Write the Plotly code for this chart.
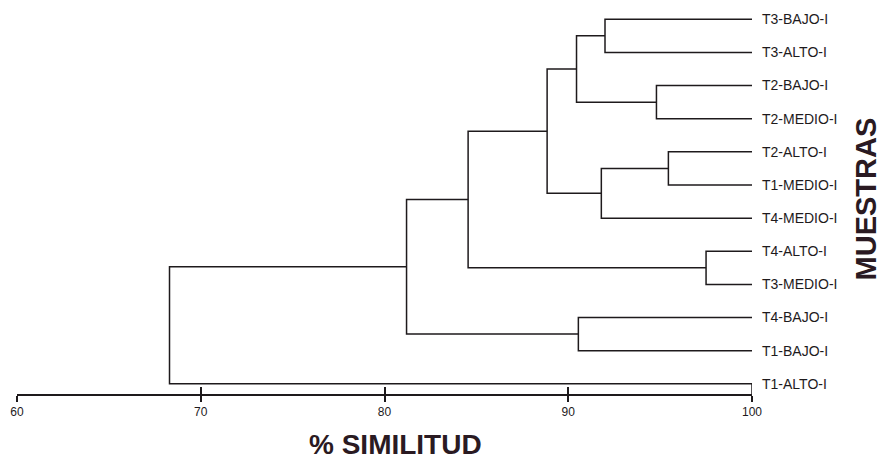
import plotly.graph_objects as go

# ---- data ----
leaves = ["T3-BAJO-I", "T3-ALTO-I", "T2-BAJO-I", "T2-MEDIO-I", "T2-ALTO-I",
          "T1-MEDIO-I", "T4-MEDIO-I", "T4-ALTO-I", "T3-MEDIO-I", "T4-BAJO-I",
          "T1-BAJO-I", "T1-ALTO-I"]
# merges: node ids 0..11 are leaves, 12.. are clusters (in order)
merge_left = [0, 2, 12, 4, 15, 14, 7, 17, 9, 19, 21]
merge_right = [1, 3, 13, 5, 6, 16, 8, 18, 10, 20, 11]
merge_sim = [92.0, 94.8, 90.45, 95.45, 91.8, 88.85, 97.5, 84.55, 90.55, 81.2, 68.3]
x_ticks = [60, 70, 80, 90, 100]
leaf_sim = 100

INK = "#1e1a1c"
LW = 1.5

# ---- compute dendrogram geometry ----
pos_x = {i: leaf_sim for i in range(len(leaves))}
pos_y = {i: float(i) for i in range(len(leaves))}
xs, ys = [], []
for k, (a, b, s) in enumerate(zip(merge_left, merge_right, merge_sim)):
    nid = len(leaves) + k
    xs += [pos_x[a], s, s, pos_x[b], None]
    ys += [pos_y[a], pos_y[a], pos_y[b], pos_y[b], None]
    pos_x[nid] = s
    pos_y[nid] = (pos_y[a] + pos_y[b]) / 2

n = len(leaves)
y_bottom = (n - 1) + 0.307
y_top = -0.582

fig = go.Figure()
fig.add_trace(go.Scatter(x=xs, y=ys, mode="lines",
                         line=dict(color=INK, width=LW), hoverinfo="skip",
                         showlegend=False))
# tall tick joining last leaf to the axis at 100
fig.add_trace(go.Scatter(x=[leaf_sim, leaf_sim], y=[n - 1, y_bottom], mode="lines",
                         line=dict(color=INK, width=LW), hoverinfo="skip",
                         showlegend=False))
# invisible trace for the overlay axis (inner tick halves)
fig.add_trace(go.Scatter(x=[60, 100], y=[y_bottom, y_bottom], xaxis="x2",
                         mode="markers", marker=dict(opacity=0),
                         hoverinfo="skip", showlegend=False))

fig.update_layout(
    width=882, height=462,
    margin=dict(l=17.3, r=129.7, t=0, b=67.5),
    paper_bgcolor="white", plot_bgcolor="white",
    font=dict(family="Liberation Sans, Arial, sans-serif", color=INK),
    xaxis=dict(range=[60, 100], tickvals=x_ticks,
               showgrid=False, zeroline=False,
               showline=True, linecolor=INK, linewidth=LW,
               ticks="outside", ticklen=6, tickwidth=LW, tickcolor=INK,
               tickfont=dict(size=12, color=INK)),
    xaxis2=dict(range=[60, 100], tickvals=x_ticks, overlaying="x",
                anchor="y", side="bottom", showgrid=False, zeroline=False,
                showline=False, showticklabels=False,
                ticks="inside", ticklen=7, tickwidth=LW, tickcolor=INK),
    yaxis=dict(range=[y_bottom, y_top], tickvals=list(range(n)),
               ticktext=leaves, side="right", showgrid=False,
               zeroline=False, showline=False, ticks="",
               ticklabelstandoff=9,
               tickfont=dict(size=14, color=INK)),
    annotations=[
        dict(text="<b>% SIMILITUD</b>", xref="paper", yref="paper",
             x=(396 - 17.3) / 735, y=(394.5 - 445) / 394.5,
             xanchor="center", yanchor="middle", showarrow=False,
             font=dict(size=28, color="#2a1a22")),
        dict(text="<b>MUESTRAS</b>", xref="paper", yref="paper",
             x=(866 - 17.3) / 735, y=(394.5 - 199) / 394.5,
             xanchor="center", yanchor="middle", showarrow=False,
             textangle=-90, font=dict(size=29, color="#2a1a22")),
    ],
)

fig.write_html("out.html",
               config={"displayModeBar": False},
               post_script="document.body.style.margin='0';document.body.style.overflow='hidden';")
